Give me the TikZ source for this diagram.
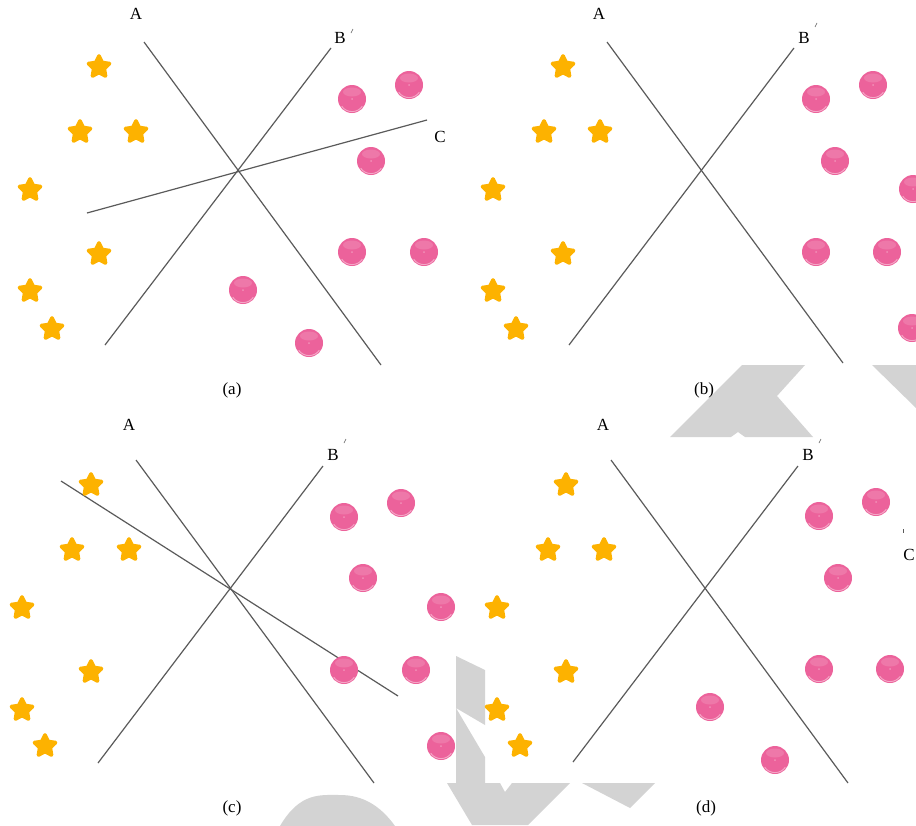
\documentclass[tikz,border=0pt]{standalone}
\usepackage{fontspec}
\setmainfont{Liberation Serif}
\usetikzlibrary{shapes.geometric}
\definecolor{starc}{RGB}{253,178,0}
\definecolor{ballc}{RGB}{236,98,155}
\definecolor{lnc}{RGB}{90,90,90}
\definecolor{wm}{RGB}{211,211,211}
\tikzset{
 staricon/.style={star, star points=5, star point ratio=2.0, minimum size=22pt, inner sep=0pt,
   fill=starc, draw=starc, line width=3.8pt, line join=round},
 ballicon/.style={circle, minimum size=28pt, inner sep=0pt, fill=ballc,
   path picture={
     \fill[white,opacity=0.14] ([yshift=7pt]path picture bounding box.center) ellipse (9pt and 4.5pt);
     \draw[white,opacity=0.45,line width=0.9pt] ([shift={(-145:12.6pt)}]path picture bounding box.center) arc (-145:-35:12.6pt);
     \fill[white,opacity=0.3] (path picture bounding box.center) circle (1pt);
   }},
 axisline/.style={draw=lnc, line width=1.2pt},
 lbl/.style={font=\fontsize{17}{20}\selectfont, inner sep=0pt},
 tickmk/.style={draw=lnc, line width=0.6pt},
 wmark/.style={fill=wm, draw=none}
}
\begin{document}
\begin{tikzpicture}[x=1pt,y=-1pt]
\useasboundingbox (0,0) rectangle (916,825);
\clip (0,0) rectangle (916,825);
% watermark shapes
\fill[wmark] (742,365) -- (805,365) -- (777,396) -- (813,437) -- (745,437) -- (738,432) -- (731,437) -- (670,437) -- cycle;
\fill[wmark] (872,365) -- (916,365) -- (916,408) -- cycle;
\fill[wmark] (456,656) -- (485,670) -- (485,725) -- (456,708) -- (485,757) -- (485,783) -- (500,783) -- (505,792) -- (512,783) -- (570,783) -- (528,825) -- (472,825) -- (447,783) -- (456,783) -- cycle;
\fill[wmark] (582,783) -- (655,783) -- (630,808) -- cycle;
\fill[wmark] (280,826) .. controls (300,792) and (320,795) .. (340,795) .. controls (362,795) and (380,805) .. (395,826) -- cycle;

% ---------- panel (a)
\coordinate (aA1) at (144,42); \coordinate (aA2) at (381,365);
\coordinate (aB1) at (331,48); \coordinate (aB2) at (105,345);
\coordinate (aC1) at (87,213); \coordinate (aC2) at (427,120);
\draw[axisline] (aA1) -- (aA2);
\draw[axisline] (aB1) -- (aB2);
\draw[axisline] (aC1) -- (aC2);
\node[lbl] (alA) at (136,14) {A};
\node[lbl] (alB) at (340,38) {B};
\node[lbl] (alC) at (440,137) {C};
\coordinate (at1) at (351,33); \coordinate (at2) at (353,29);
\draw[tickmk] (at1) -- (at2);
\node[lbl] (acap) at (232,390) {(a)};
\foreach \x/\y [count=\i] in {99/67,80/132,136/132,30/190,99/254,30/291,52/329}
  \node[staricon] (as\i) at (\x,\y) {};
\foreach \x/\y [count=\i] in {352/99,409/85,371/161,352/252,424/252,243/290,309/343}
  \node[ballicon] (ab\i) at (\x,\y) {};

% ---------- panel (b)
\coordinate (bA1) at (607,42); \coordinate (bA2) at (843,363);
\coordinate (bB1) at (794,48); \coordinate (bB2) at (569,345);
\draw[axisline] (bA1) -- (bA2);
\draw[axisline] (bB1) -- (bB2);
\node[lbl] (blA) at (599,14) {A};
\node[lbl] (blB) at (804,38) {B};
\coordinate (bt1) at (815,27); \coordinate (bt2) at (817,23);
\draw[tickmk] (bt1) -- (bt2);
\node[lbl] (bcap) at (704,390) {(b)};
\foreach \x/\y [count=\i] in {563/67,544/132,600/132,493/190,563/254,493/291,516/329}
  \node[staricon] (bs\i) at (\x,\y) {};
\foreach \x/\y [count=\i] in {816/99,873/85,835/161,913/189,816/252,887/252,912/328}
  \node[ballicon] (bb\i) at (\x,\y) {};

% ---------- panel (c)
\coordinate (cA1) at (136,460); \coordinate (cA2) at (374,783);
\coordinate (cB1) at (323,466); \coordinate (cB2) at (98,763);
\coordinate (cC1) at (61,481); \coordinate (cC2) at (398,696);
\draw[axisline] (cA1) -- (cA2);
\draw[axisline] (cB1) -- (cB2);
\draw[axisline] (cC1) -- (cC2);
\node[lbl] (clA) at (129,425) {A};
\node[lbl] (clB) at (333,455) {B};
\coordinate (ct1) at (344,443); \coordinate (ct2) at (346,439);
\draw[tickmk] (ct1) -- (ct2);
\node[lbl] (ccap) at (232,808) {(c)};
\foreach \x/\y [count=\i] in {91/485,72/550,129/550,22/608,91/672,22/710,45/746}
  \node[staricon] (cs\i) at (\x,\y) {};
\foreach \x/\y [count=\i] in {344/517,401/503,363/578,441/607,344/670,416/670,441/746}
  \node[ballicon] (cb\i) at (\x,\y) {};

% ---------- panel (d)
\coordinate (dA1) at (611,460); \coordinate (dA2) at (848,783);
\coordinate (dB1) at (798,466); \coordinate (dB2) at (573,762);
\draw[axisline] (dA1) -- (dA2);
\draw[axisline] (dB1) -- (dB2);
\node[lbl] (dlA) at (603,425) {A};
\node[lbl] (dlB) at (808,455) {B};
\coordinate (dt1) at (819,443); \coordinate (dt2) at (821,439);
\draw[tickmk] (dt1) -- (dt2);
\node[lbl] (dlC) at (909,555) {C};
\coordinate (dt3) at (903,529); \coordinate (dt4) at (903,533);
\draw[tickmk] (dt3) -- (dt4);
\node[lbl] (dcap) at (706,808) {(d)};
\foreach \x/\y [count=\i] in {566/485,548/550,604/550,497/608,566/672,497/710,520/746}
  \node[staricon] (ds\i) at (\x,\y) {};
\foreach \x/\y [count=\i] in {819/516,876/502,838/578,819/669,890/669,710/707,775/760}
  \node[ballicon] (db\i) at (\x,\y) {};
\end{tikzpicture}
\end{document}
